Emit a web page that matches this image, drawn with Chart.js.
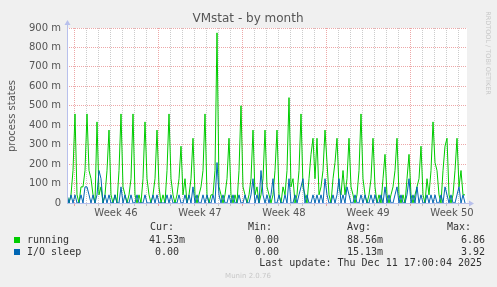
<!DOCTYPE html>
<html>
<head>
<meta charset="utf-8">
<script src="https://cdn.jsdelivr.net/npm/chart.js@4/dist/chart.umd.min.js"></script>
<style>
  html, body { margin: 0; padding: 0; background: #f0f0f0; }
  #wrap { width: 497px; height: 287px; }
</style>
</head>
<body>
<div id="wrap"><canvas id="vmstat" width="497" height="287"></canvas></div>
<script>
// values are in milli-processes, one point every 4 hours over the month
const hoursPerPoint = 4;
const running = [
    42, 0, 42, 167, 458, 42, 0, 83, 83, 167, 458, 167,
    125, 42, 0, 417, 42, 83, 0, 42, 167, 375, 42, 0,
    42, 0, 167, 458, 83, 42, 0, 42, 125, 458, 42, 0,
    42, 0, 125, 417, 125, 42, 0, 42, 125, 375, 83, 0,
    42, 0, 167, 458, 125, 42, 0, 42, 125, 292, 42, 125,
    0, 42, 125, 333, 42, 0, 42, 83, 167, 458, 42, 0,
    42, 42, 167, 875, 83, 42, 0, 42, 125, 333, 42, 0,
    42, 0, 167, 500, 83, 42, 0, 42, 125, 375, 42, 83,
    0, 42, 125, 375, 83, 42, 0, 42, 167, 375, 42, 0,
    83, 42, 167, 542, 83, 125, 0, 42, 167, 458, 83, 42,
    0, 125, 250, 333, 125, 333, 42, 83, 167, 375, 208, 42,
    0, 125, 208, 333, 83, 42, 167, 42, 125, 333, 83, 42,
    0, 42, 167, 458, 125, 42, 0, 42, 125, 333, 83, 0,
    42, 0, 125, 250, 42, 0, 42, 83, 167, 333, 42, 0,
    42, 0, 125, 250, 42, 0, 42, 83, 125, 292, 42, 0,
    125, 42, 167, 417, 208, 167, 42, 0, 167, 292, 333, 42,
    0, 42, 167, 333, 83, 167, 42, 42
];
const ioSleep = [
    42, 0, 42, 0, 42, 0, 0, 42, 0, 83, 83, 42,
    0, 42, 0, 42, 167, 125, 0, 42, 0, 42, 0, 0,
    42, 0, 0, 83, 0, 42, 0, 0, 42, 0, 0, 42,
    0, 0, 0, 42, 0, 0, 0, 42, 0, 42, 0, 0,
    0, 0, 42, 0, 42, 0, 0, 0, 42, 0, 0, 42,
    0, 42, 0, 83, 0, 42, 0, 0, 42, 0, 42, 0,
    0, 42, 0, 208, 42, 0, 42, 0, 0, 42, 0, 42,
    0, 0, 42, 0, 0, 42, 0, 0, 42, 125, 0, 42,
    0, 167, 42, 0, 42, 0, 42, 125, 0, 0, 42, 0,
    0, 42, 0, 125, 0, 0, 42, 0, 42, 83, 125, 0,
    42, 0, 0, 42, 0, 42, 0, 42, 0, 125, 42, 0,
    0, 42, 0, 42, 125, 0, 42, 0, 83, 42, 0, 0,
    42, 0, 0, 42, 0, 42, 0, 0, 42, 0, 42, 0,
    0, 42, 0, 83, 0, 42, 0, 0, 42, 83, 0, 42,
    0, 0, 42, 125, 0, 42, 0, 83, 0, 42, 0, 0,
    42, 0, 42, 0, 42, 0, 0, 42, 0, 83, 42, 0,
    42, 0, 0, 42, 83, 0, 42, 0
];

const weekLabels = ['Week 46', 'Week 47', 'Week 48', 'Week 49', 'Week 50'];
const yTickValues = [0, 50, 100, 150, 200, 250, 300, 350, 400, 450, 500, 550, 600, 650, 700, 750, 800, 850, 900];
const legendHeader = ['Cur:', 'Min:', 'Avg:', 'Max:'];
const legendRows = [
    ['running', '41.53m', '0.00', '88.56m', '6.86'],
    ['I/O sleep', '0.00', '0.00', '15.13m', '3.92']
];

const GREEN = '#00cc00';
const BLUE = '#0066b3';
const MAJOR = 'rgba(225,110,110,0.6)';
const MINOR = 'rgba(170,170,170,0.6)';
const AXIS = '#b8c0ec';

// x axis in hours from the left edge of the plot
const firstDay = 14, dayLen = 24, weekLen = 168, totalHours = 800;
const dayTicks = [];
for (let h = firstDay; h < totalHours; h += dayLen) dayTicks.push(h);
const weekTicks = weekLabels.map((w, i) => firstDay + weekLen / 2 + i * weekLen);

function isDayTick(v) { return (v - firstDay) % dayLen === 0; }
function isWeekLine(v) { return (v - firstDay) % weekLen === 0; }

const munin = {
    id: 'munin',
    beforeDraw(chart) {
        const c = chart.ctx, a = chart.chartArea;
        c.save();
        c.fillStyle = '#f0f0f0';
        c.fillRect(0, 0, chart.width, chart.height);
        c.fillStyle = '#ffffff';
        c.fillRect(a.left, a.top, a.right - a.left, a.bottom - a.top);
        c.restore();
    },
    afterDraw(chart) {
        const c = chart.ctx, a = chart.chartArea;
        c.save();
        // axes with arrows
        c.strokeStyle = AXIS;
        c.fillStyle = AXIS;
        c.lineWidth = 1;
        c.beginPath();
        c.moveTo(a.left + 0.5, a.bottom);
        c.lineTo(a.left + 0.5, a.top - 4);
        c.moveTo(a.left, a.bottom + 0.5);
        c.lineTo(a.right + 3, a.bottom + 0.5);
        c.stroke();
        c.beginPath();
        c.moveTo(a.left - 2.5, a.top - 3);
        c.lineTo(a.left + 3.5, a.top - 3);
        c.lineTo(a.left + 0.5, a.top - 8);
        c.fill();
        c.beginPath();
        c.moveTo(a.right + 2, a.bottom - 2.5);
        c.lineTo(a.right + 2, a.bottom + 3.5);
        c.lineTo(a.right + 7, a.bottom + 0.5);
        c.fill();

        // title
        c.fillStyle = '#555';
        c.textAlign = 'center';
        c.textBaseline = 'middle';
        c.font = '12px "DejaVu Sans"';
        c.fillText('VMstat - by month', 248, 19);

        // y axis title
        c.save();
        c.translate(12, 116);
        c.rotate(-Math.PI / 2);
        c.font = '10px "DejaVu Sans"';
        c.fillText('process states', 0, 0);
        c.restore();

        // side credit
        c.save();
        c.translate(488, 53);
        c.rotate(Math.PI / 2);
        c.fillStyle = '#c8c8c8';
        c.font = '6.5px "DejaVu Sans"';
        c.fillText('RRDTOOL / TOBI OETIKER', 0, 0);
        c.restore();

        // legend
        c.font = '10px "DejaVu Sans Mono"';
        c.fillStyle = '#333';
        c.textAlign = 'left';
        const colX = [150, 248, 347, 447];
        legendHeader.forEach((h, i) => c.fillText(h, colX[i], 227.5));
        const rowY = [240, 252];
        const valX = [[149, 255, 347, 461], [155, 255, 347, 461]];
        const colors = [GREEN, BLUE];
        legendRows.forEach((row, r) => {
            c.fillStyle = colors[r];
            c.fillRect(14, rowY[r] - 3, 6, 6);
            c.fillStyle = '#333';
            c.fillText(row[0], 27, rowY[r]);
            for (let k = 1; k < row.length; k++) c.fillText(row[k], valX[r][k - 1], rowY[r]);
        });
        c.textAlign = 'right';
        c.fillText('Last update: Thu Dec 11 17:00:04 2025', 482, 263.5);

        c.textAlign = 'center';
        c.fillStyle = '#c8c8c8';
        c.font = '7px "DejaVu Sans"';
        c.fillText('Munin 2.0.76', 248, 276.5);
        c.restore();
    }
};

const ctx = document.getElementById('vmstat').getContext('2d');
new Chart(ctx, {
    type: 'line',
    data: {
        datasets: [{
            label: 'I/O sleep',
            data: ioSleep.map((v, i) => ({ x: i * hoursPerPoint, y: v })),
            borderColor: BLUE,
            borderWidth: 1,
            pointRadius: 0,
            tension: 0,
            fill: false,
            order: 0
        }, {
            label: 'running',
            data: running.map((v, i) => ({ x: i * hoursPerPoint, y: v })),
            borderColor: GREEN,
            borderWidth: 1,
            pointRadius: 0,
            tension: 0,
            fill: false,
            order: 1
        }]
    },
    options: {
        responsive: false,
        animation: false,
        devicePixelRatio: 1,
        layout: { padding: { left: 0, right: 30, top: 28, bottom: 0 } },
        plugins: { legend: { display: false }, tooltip: { enabled: false }, title: { display: false } },
        scales: {
            x: {
                type: 'linear',
                min: 0,
                max: totalHours,
                afterBuildTicks(scale) {
                    scale.ticks = dayTicks.concat(weekTicks).sort((p, q) => p - q).map(v => ({ value: v }));
                },
                afterFit(scale) { scale.height = 84; },
                grid: {
                    color(c) {
                        const v = c.tick ? c.tick.value : 0;
                        if (!isDayTick(v)) return 'rgba(0,0,0,0)';
                        return isWeekLine(v) ? MAJOR : MINOR;
                    },
                    tickLength: 3,
                    lineWidth: 1
                },
                border: { display: false, dash: [1, 1] },
                ticks: {
                    autoSkip: false,
                    maxRotation: 0,
                    padding: 1,
                    color: '#555',
                    font: { family: 'DejaVu Sans', size: 10 },
                    callback(v) {
                        const k = weekTicks.indexOf(v);
                        return k >= 0 ? weekLabels[k] : '';
                    }
                }
            },
            y: {
                min: 0,
                max: 900,
                afterBuildTicks(scale) {
                    scale.ticks = yTickValues.map(v => ({ value: v }));
                },
                afterFit(scale) { scale.width = 67; },
                grid: {
                    color(c) {
                        const v = c.tick ? c.tick.value : 0;
                        return v % 100 === 0 ? MAJOR : MINOR;
                    },
                    drawTicks: false,
                    lineWidth: 1
                },
                border: { display: false, dash: [1, 1] },
                ticks: {
                    padding: 6,
                    color: '#555',
                    font: { family: 'DejaVu Sans', size: 10 },
                    callback(v) {
                        if (v % 100 !== 0) return '';
                        return v === 0 ? '0' : v + ' m';
                    }
                }
            }
        }
    },
    plugins: [munin]
});
</script>
</body>
</html>
